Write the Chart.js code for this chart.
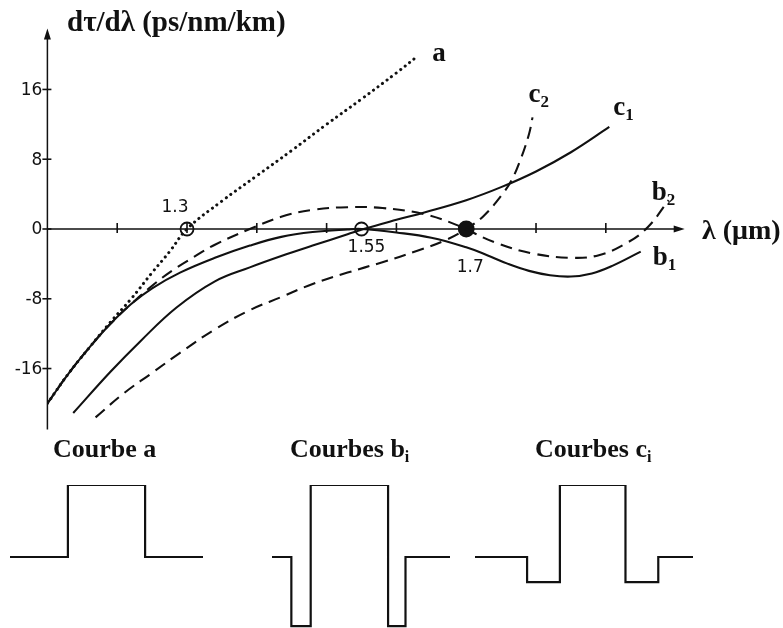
<!DOCTYPE html>
<html>
<head>
<meta charset="utf-8">
<script src="https://cdn.jsdelivr.net/npm/chart.js@4.4.1/dist/chart.umd.min.js"></script>
<style>
  html, body { margin: 0; padding: 0; background: #fff; overflow: hidden; }
  #wrap { position: relative; width: 783px; height: 628px; }
  canvas { position: absolute; }
</style>
</head>
<body>
<div id="wrap">
  <canvas id="main" width="783" height="628" style="left:0;top:0"></canvas>
  <canvas id="profA" width="199" height="150" style="left:7px;top:482px"></canvas>
  <canvas id="profB" width="184" height="150" style="left:269px;top:482px"></canvas>
  <canvas id="profC" width="224" height="150" style="left:472px;top:482px"></canvas>
</div>
<script>
// wavelength (µm) and dispersion dτ/dλ (ps/nm/km)
const aX  = [1.10, 1.13, 1.16, 1.19, 1.22, 1.25, 1.275, 1.30, 1.35, 1.40, 1.45, 1.50, 1.55, 1.60, 1.63];
const aY  = [-20.0, -16.6, -13.6, -10.7, -8.0, -5.0, -2.6, 0, 3.2, 6.1, 9.0, 12.0, 14.9, 17.9, 19.8];

const b1X = [1.10, 1.13, 1.16, 1.19, 1.22, 1.25, 1.29, 1.34, 1.39, 1.435, 1.48, 1.53, 1.55, 1.60, 1.65, 1.70, 1.73, 1.76, 1.79, 1.82, 1.85, 1.88, 1.91, 1.95];
const b1Y = [-20.0, -16.6, -13.6, -10.9, -8.6, -6.8, -5.0, -3.3, -1.9, -0.9, -0.35, -0.05, 0, -0.4, -1.0, -2.1, -3.0, -4.0, -4.8, -5.3, -5.45, -5.1, -4.2, -2.6];

const b2X = [1.10, 1.13, 1.16, 1.19, 1.22, 1.25, 1.28, 1.31, 1.34, 1.39, 1.435, 1.48, 1.53, 1.58, 1.64, 1.685, 1.74, 1.795, 1.85, 1.89, 1.93, 1.96, 1.99];
const b2Y = [-20.0, -16.6, -13.6, -10.9, -8.6, -6.5, -4.7, -3.2, -1.8, 0, 1.4, 2.2, 2.5, 2.4, 1.7, 0.5, -1.5, -2.8, -3.3, -3.0, -1.6, 0.2, 3.3];

const c1X = [1.137, 1.19, 1.234, 1.285, 1.34, 1.39, 1.435, 1.48, 1.53, 1.553, 1.60, 1.64, 1.70, 1.75, 1.80, 1.85, 1.905];
const c1Y = [-21.1, -16.4, -12.8, -9.0, -6.0, -4.4, -3.1, -1.9, -0.6, 0, 1.05, 1.9, 3.3, 4.8, 6.6, 8.8, 11.7];

const c2X = [1.169, 1.21, 1.25, 1.29, 1.34, 1.39, 1.435, 1.48, 1.53, 1.58, 1.63, 1.67, 1.70, 1.725, 1.75, 1.765, 1.778, 1.79, 1.795];
const c2Y = [-21.6, -18.8, -16.5, -14.2, -11.5, -9.3, -7.8, -6.3, -5.0, -3.8, -2.5, -1.3, 0, 1.5, 3.8, 5.6, 8.0, 10.9, 12.8];

// axis ticks and the marked zero-dispersion wavelengths
const yTicks = [-16, -8, 0, 8, 16];
const xTicks = [1.2, 1.3, 1.4, 1.5, 1.6, 1.7, 1.8, 1.9];
const zeroX = [1.3, 1.55, 1.7];
const zeroLabels = ['1.3', '1.55', '1.7'];

// index profiles (radius, Δn normalised)
const profAX = [-5, -2, -2, 2, 2, 5];
const profAY = [0, 0, 1, 1, 0, 0];
const profBX = [-4, -3, -3, -2, -2, 2, 2, 2.9, 2.9, 5.2];
const profBY = [0, 0, -0.96, -0.96, 1, 1, -0.96, -0.96, 0, 0];
const profCX = [-6.1, -3.4, -3.4, -1.7, -1.7, 1.7, 1.7, 3.4, 3.4, 5.2];
const profCY = [0, 0, -0.35, -0.35, 1, 1, -0.35, -0.35, 0, 0];

const INK = '#111';
const SERIF = '"Liberation Serif", "Times New Roman", serif';
const SANS = '"DejaVu Sans", Arial, sans-serif';

const pts = (xs, ys) => xs.map((x, i) => ({ x, y: ys[i] }));

function curve(label, xs, ys, dash, width, cap) {
  return {
    label,
    data: pts(xs, ys),
    borderColor: INK,
    borderWidth: width || 2.1,
    borderDash: dash || [],
    borderCapStyle: cap || 'butt',
    pointRadius: 0,
    fill: false,
    tension: 0.4
  };
}

// text with an optional subscript
function subText(ctx, x, y, main, sub, size, subSize) {
  ctx.font = 'bold ' + size + 'px ' + SERIF;
  ctx.fillText(main, x, y);
  if (sub) {
    const w = ctx.measureText(main).width;
    ctx.font = 'bold ' + subSize + 'px ' + SERIF;
    ctx.fillText(sub, x + w, y + 5);
  }
}

const axesPlugin = {
  id: 'axes',
  beforeDatasetsDraw(chart) {
    const { ctx, chartArea: ca, scales: { x, y } } = chart;
    const x0 = x.getPixelForValue(x.min);
    const y0 = y.getPixelForValue(0);
    ctx.save();
    ctx.strokeStyle = INK;
    ctx.fillStyle = INK;
    ctx.lineWidth = 1.5;

    ctx.beginPath();
    ctx.moveTo(x0, ca.bottom);
    ctx.lineTo(x0, ca.top + 6);
    ctx.moveTo(x0, y0);
    ctx.lineTo(ca.right - 6, y0);
    ctx.stroke();

    // arrow heads
    ctx.beginPath();
    ctx.moveTo(x0, ca.top);
    ctx.lineTo(x0 - 3.5, ca.top + 11);
    ctx.lineTo(x0 + 3.5, ca.top + 11);
    ctx.closePath();
    ctx.moveTo(ca.right, y0);
    ctx.lineTo(ca.right - 11, y0 - 3.5);
    ctx.lineTo(ca.right - 11, y0 + 3.5);
    ctx.closePath();
    ctx.fill();

    ctx.lineWidth = 1.6;
    ctx.font = '17px ' + SANS;
    ctx.textAlign = 'right';
    ctx.textBaseline = 'middle';
    yTicks.forEach(v => {
      const py = y.getPixelForValue(v);
      ctx.beginPath();
      ctx.moveTo(x0 - 5, py);
      ctx.lineTo(x0 + 4, py);
      ctx.stroke();
      ctx.fillText(String(v), x0 - 5, py + 1);
    });
    xTicks.forEach(v => {
      const px = x.getPixelForValue(v);
      ctx.beginPath();
      ctx.moveTo(px, y0 - 6);
      ctx.lineTo(px, y0 + 4);
      ctx.stroke();
    });
    ctx.restore();
  },
  afterDatasetsDraw(chart) {
    const { ctx, scales: { x, y } } = chart;
    ctx.save();
    ctx.fillStyle = INK;

    // zero-crossing labels
    const zOff = [[-12, -21], [5, 19], [4, 39]];
    ctx.font = '17px ' + SANS;
    ctx.textAlign = 'center';
    ctx.textBaseline = 'middle';
    zeroX.forEach((v, i) => {
      ctx.fillText(zeroLabels[i], x.getPixelForValue(v) + zOff[i][0], y.getPixelForValue(0) + zOff[i][1]);
    });

    // curve names next to the end of each curve
    ctx.textAlign = 'left';
    ctx.textBaseline = 'alphabetic';
    const names = [['a', ''], ['b', '1'], ['b', '2'], ['c', '1'], ['c', '2']];
    const nOff = [[15, 5], [12, 13], [-17, 0], [4, -12], [-4, -15]];
    names.forEach((n, i) => {
      const last = chart.getDatasetMeta(i).data.at(-1);
      subText(ctx, last.x + nOff[i][0], last.y + nOff[i][1], n[0], n[1], 27, 17);
    });

    // axis titles
    subText(ctx, 67, 31, 'dτ/dλ (ps/nm/km)', '', 29, 0);
    subText(ctx, 702, 239, 'λ (μm)', '', 28, 0);

    // index profile titles
    subText(ctx, 53, 457, 'Courbe a', '', 26, 0);
    subText(ctx, 290, 457, 'Courbes b', 'i', 26, 16);
    subText(ctx, 535, 457, 'Courbes c', 'i', 26, 16);
    ctx.restore();
  }
};

new Chart(document.getElementById('main'), {
  type: 'line',
  data: {
    datasets: [
      curve('a', aX, aY, [0.1, 5.6], 3, 'round'),
      curve('b1', b1X, b1Y),
      curve('b2', b2X, b2Y, [12, 7]),
      curve('c1', c1X, c1Y),
      curve('c2', c2X, c2Y, [12, 7]),
      {
        label: 'zeros',
        data: zeroX.map(v => ({ x: v, y: 0 })),
        showLine: false,
        pointRadius: [6.5, 6.5, 7.5],
        pointBorderWidth: 1.8,
        pointBorderColor: INK,
        pointBackgroundColor: ['rgba(0,0,0,0)', 'rgba(0,0,0,0)', INK]
      }
    ]
  },
  options: {
    responsive: false,
    animation: false,
    devicePixelRatio: 1,
    layout: { padding: { left: 47.4, right: 98.3, top: 28.4, bottom: 198.4 } },
    plugins: { legend: { display: false }, tooltip: { enabled: false } },
    scales: {
      x: { type: 'linear', min: 1.1, max: 2.013, display: false },
      y: { type: 'linear', min: -23, max: 23, display: false }
    }
  },
  plugins: [axesPlugin]
});

function profile(id, xs, ys) {
  new Chart(document.getElementById(id), {
    type: 'line',
    data: {
      datasets: [{
        data: pts(xs, ys),
        borderColor: INK,
        borderWidth: 2.2,
        borderJoinStyle: 'miter',
        pointRadius: 0,
        tension: 0
      }]
    },
    options: {
      responsive: false,
      animation: false,
      devicePixelRatio: 1,
      layout: { padding: 3 },
      plugins: { legend: { display: false }, tooltip: { enabled: false } },
      scales: {
        x: { type: 'linear', min: xs[0], max: xs[xs.length - 1], display: false },
        y: { type: 'linear', min: -1, max: 1, display: false }
      }
    }
  });
}

profile('profA', profAX, profAY);
profile('profB', profBX, profBY);
profile('profC', profCX, profCY);
</script>
</body>
</html>
